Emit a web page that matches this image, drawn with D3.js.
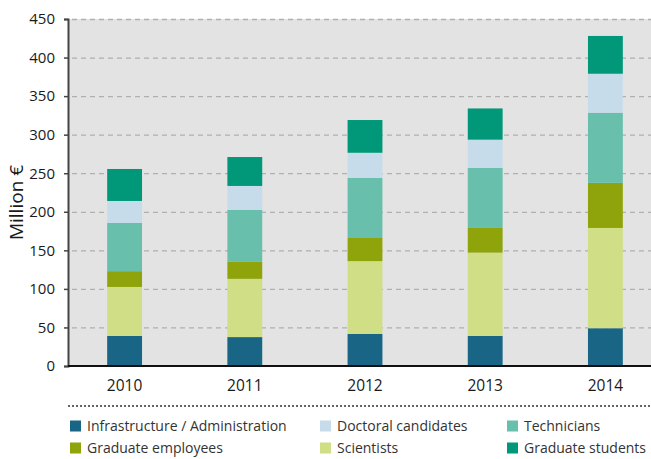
<!DOCTYPE html>
<html>
<head>
<meta charset="utf-8">
<script src="https://cdn.jsdelivr.net/npm/d3@7"></script>
<style>
  body { margin: 0; background: #fff; }
  text { font-family: "Open Sans", "Noto Sans", sans-serif; fill: #1a1a1a; }
</style>
</head>
<body>
<div id="chart"></div>
<script>
// Data.
var years = ['2010', '2011', '2012', '2013', '2014'];
var seriesNames = ['Infrastructure / Administration', 'Scientists', 'Graduate employees',
                   'Technicians', 'Doctoral candidates', 'Graduate students'];
var infrastructure = [39, 37.5, 41.5, 39, 49];
var scientists = [63.5, 75.5, 94.5, 108, 130];
var graduateEmployees = [20.5, 22, 30, 32, 58.5];
var technicians = [62.5, 67.5, 78, 78, 91];
var doctoralCandidates = [28.5, 31, 32.5, 36.5, 50.5];
var graduateStudents = [41.5, 37.5, 42.5, 40.5, 49];
var yTicks = [0, 50, 100, 150, 200, 250, 300, 350, 400, 450];

var colors = ['#186585', '#d0de86', '#8fa40a', '#68c0ac', '#c6dcea', '#009878'];
var legendOrder = [0, 4, 3, 2, 1, 5];

var width = 651, height = 459;
var plotLeft = 68, plotRight = 651, plotTop = 19, plotBottom = 366;

var svg = d3.select('#chart').append('svg')
    .attr('width', width)
    .attr('height', height);

var table = years.map(function(yr, i) {
  return {
    year: yr,
    s0: infrastructure[i], s1: scientists[i], s2: graduateEmployees[i],
    s3: technicians[i], s4: doctoralCandidates[i], s5: graduateStudents[i]
  };
});
var keys = ['s0', 's1', 's2', 's3', 's4', 's5'];
var stacked = d3.stack().keys(keys)(table);

var x = d3.scaleBand().domain(years).range([64.5, 665.5]).paddingInner(0.71).paddingOuter(0.355);
var y = d3.scaleLinear().domain([0, 450]).range([plotBottom, plotTop]);

// Plot background.
svg.append('rect')
    .attr('x', plotLeft).attr('y', plotTop)
    .attr('width', plotRight - plotLeft).attr('height', plotBottom - plotTop)
    .style('fill', '#e3e3e3');

// Grid lines.
svg.selectAll('line.grid').data(yTicks.filter(function(d) { return d > 0; }))
  .enter().append('line')
    .attr('x1', plotLeft + 4).attr('x2', plotRight)
    .attr('y1', function(d) { return y(d) + 0.5; })
    .attr('y2', function(d) { return y(d) + 0.5; })
    .style('stroke', '#b0b0b0')
    .style('stroke-width', 1.3)
    .style('stroke-dasharray', '5,4');

// Bars.
var layers = svg.selectAll('g.layer').data(stacked)
  .enter().append('g')
    .style('fill', function(d, i) { return colors[i]; });
layers.selectAll('rect').data(function(d) { return d; })
  .enter().append('rect')
    .attr('x', function(d) { return x(d.data.year); })
    .attr('width', x.bandwidth())
    .attr('y', function(d) { return y(d[1]); })
    .attr('height', function(d) { return y(d[0]) - y(d[1]); });

// Y axis.
var yAxis = svg.append('g')
    .attr('transform', 'translate(' + plotLeft + ',0)')
    .call(d3.axisLeft(y).tickValues(yTicks).tickSize(4).tickPadding(9));
yAxis.select('.domain').style('stroke', '#444').style('stroke-width', 2);
yAxis.selectAll('.tick line').style('stroke', '#444').style('stroke-width', 1.5);
yAxis.selectAll('text')
    .style('font-size', '15px')
    .style('font-family', '"Open Sans", sans-serif')
    .style('fill', '#1a1a1a');

// X axis.
var xAxis = svg.append('g')
    .attr('transform', 'translate(0,' + plotBottom + ')');
xAxis.append('line')
    .attr('x1', plotLeft).attr('x2', plotRight)
    .attr('y1', 0).attr('y2', 0)
    .style('stroke', '#111').style('stroke-width', 2);
xAxis.selectAll('text').data(years)
  .enter().append('text')
    .attr('x', function(d) { return x(d) + x.bandwidth() / 2; })
    .attr('y', 25)
    .attr('text-anchor', 'middle')
    .style('font-size', '15.5px')
    .text(function(d) { return d; });

// Y title.
svg.append('text')
    .attr('transform', 'translate(23,' + ((plotTop + plotBottom) / 2 + 10) + ') rotate(-90)')
    .attr('text-anchor', 'middle')
    .style('font-size', '19px')
    .text('Million €');

// Legend.
svg.append('line')
    .attr('x1', plotLeft).attr('x2', plotRight)
    .attr('y1', 406).attr('y2', 406)
    .style('stroke', '#333')
    .style('stroke-width', 1.3)
    .style('stroke-dasharray', '2,2');

var colX = [70, 320, 507];
var rowY = [426, 448];
var legend = svg.selectAll('g.legend').data(legendOrder)
  .enter().append('g')
    .attr('transform', function(d, i) {
      return 'translate(' + colX[i % 3] + ',' + rowY[Math.floor(i / 3)] + ')';
    });
legend.append('rect')
    .attr('x', 0).attr('y', -5.5)
    .attr('width', 11).attr('height', 11)
    .style('fill', function(d) { return colors[d]; });
legend.append('text')
    .attr('x', 17).attr('y', 5)
    .style('font-size', '14px')
    .style('fill', '#333')
    .text(function(d) { return seriesNames[d]; });
</script>
</body>
</html>
